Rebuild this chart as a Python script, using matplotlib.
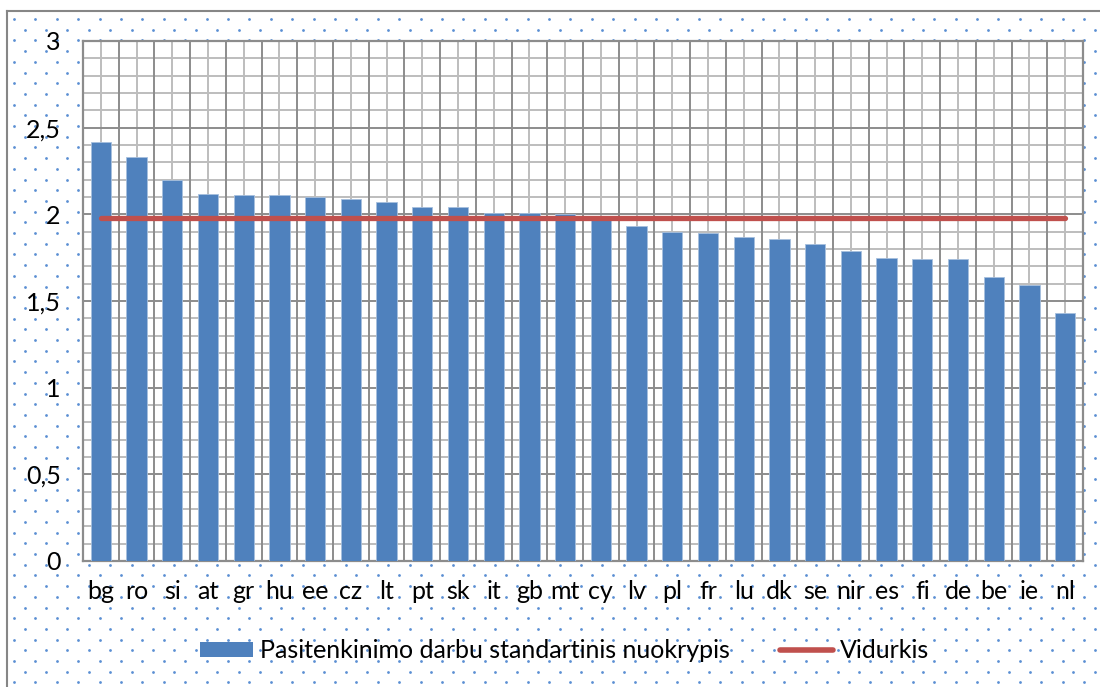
import numpy as np
import matplotlib.pyplot as plt
from matplotlib.ticker import MultipleLocator, FixedLocator, FuncFormatter
from matplotlib.lines import Line2D
from matplotlib.patches import Patch

plt.rcParams['font.family'] = ['Lato', 'DejaVu Sans']

# data
countries = ['bg', 'ro', 'si', 'at', 'gr', 'hu', 'ee', 'cz', 'lt', 'pt', 'sk', 'it', 'gb', 'mt',
             'cy', 'lv', 'pl', 'fr', 'lu', 'dk', 'se', 'nir', 'es', 'fi', 'de', 'be', 'ie', 'nl']
std_dev = [2.42, 2.33, 2.20, 2.12, 2.11, 2.11, 2.10, 2.09, 2.07, 2.04, 2.04, 2.01, 2.01, 2.00,
           1.99, 1.93, 1.90, 1.89, 1.87, 1.86, 1.83, 1.79, 1.75, 1.74, 1.74, 1.64, 1.59, 1.43]
average = [1.98] * len(countries)

bar_blue = '#4F81BD'
line_red = '#C0504D'

W, H = 1100, 687
fig = plt.figure(figsize=(11, 6.87), dpi=100)

# dotted chart-area background
bg = fig.add_axes([0, 0, 1, 1], zorder=-10)
bg.set_xlim(0, W)
bg.set_ylim(H, 0)
bg.axis('off')
xs, ys = [], []
for r, y in enumerate(np.arange(19, H + 10, 10.7)):
    x0 = 14 if r % 2 == 0 else 24.7
    for x in np.arange(x0, W + 10, 21.4):
        xs.append(x)
        ys.append(y)
bg.scatter(xs, ys, s=4, color='#5B8FD3', linewidths=0)
bg.plot([7, W], [11, 11], color='#868686', lw=1.5)
bg.plot([7, 7], [11, H], color='#868686', lw=1.5)

ax = fig.add_axes([83 / W, 1 - 561 / H, (1083 - 83) / W, (561 - 41) / H])
ax.set_facecolor('white')
x = np.arange(len(countries))
ax.bar(x, std_dev, width=0.57, color=bar_blue, edgecolor='#A7C0DE', linewidth=0.6, zorder=3,
       label='Pasitenkinimo darbu standartinis nuokrypis')
ax.plot(x, average, color=line_red, lw=3.8, solid_capstyle='round', zorder=4, label='Vidurkis')

ax.set_xlim(-0.5, len(countries) - 0.5)
ax.set_ylim(0, 3)
ax.xaxis.set_major_locator(FixedLocator(x))
ax.set_xticklabels(countries)
ax.yaxis.set_major_locator(MultipleLocator(0.5))
ax.yaxis.set_major_formatter(FuncFormatter(lambda v, p: f'{v:g}'.replace('.', ',')))
ax.yaxis.set_minor_locator(MultipleLocator(0.1))

# grid: dark at category boundaries and 0.5 steps, light at centres and 0.1 steps
for b in np.arange(-0.5, len(countries), 1.0):
    ax.axvline(b, color='#8C8C8C', lw=1.4, zorder=1)
for c in x:
    ax.axvline(c, color='#BDBDBD', lw=1.4, zorder=0.5)
ax.grid(axis='y', which='major', color='#8C8C8C', lw=1.4, zorder=1)
ax.grid(axis='y', which='minor', color='#BDBDBD', lw=1.4, zorder=0.5)
ax.set_axisbelow(True)

for s in ax.spines.values():
    s.set_color('#8C8C8C')
    s.set_linewidth(1.6)
ax.tick_params(axis='both', which='both', length=0, labelsize=18)
ax.tick_params(axis='y', pad=16)
ax.tick_params(axis='x', pad=14)

handles = [Patch(facecolor=bar_blue, edgecolor='none'),
           Line2D([0], [0], color=line_red, lw=4, solid_capstyle='round')]
fig.legend(handles, ['Pasitenkinimo darbu standartinis nuokrypis', 'Vidurkis'],
           loc='center', bbox_to_anchor=(565 / W, 1 - 651 / H), ncol=2, frameon=False,
           fontsize=18, handlelength=2.1, handleheight=0.55, handletextpad=0.3,
           columnspacing=2.0)

fig.savefig('out.png', dpi=100)
